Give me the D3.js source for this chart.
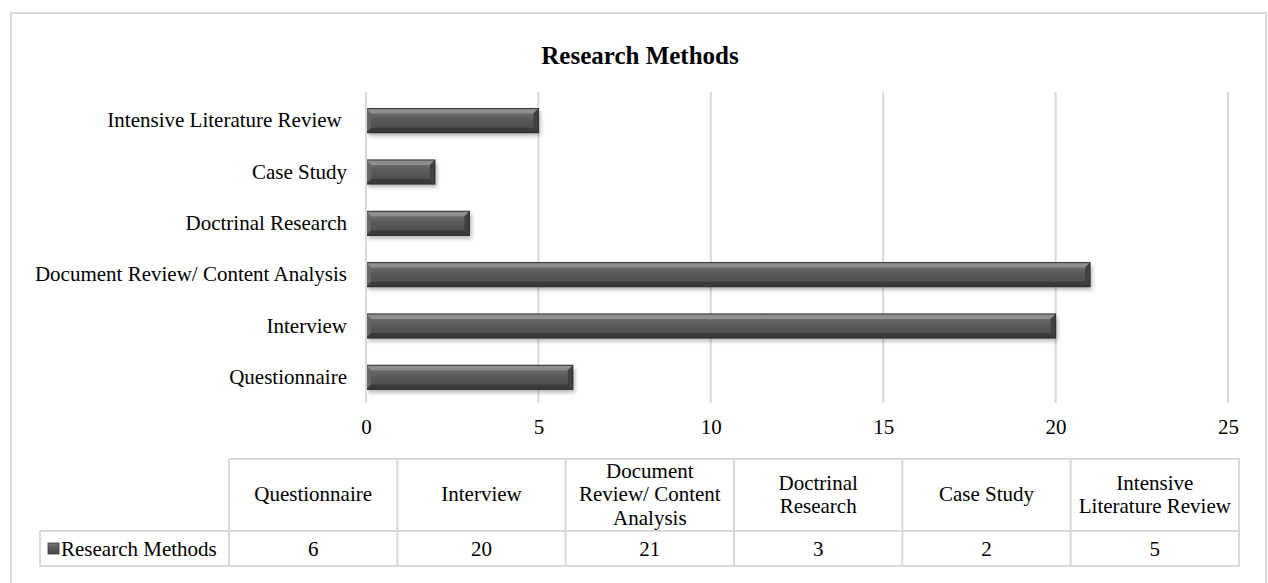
<!DOCTYPE html>
<html>
<head>
<meta charset="utf-8">
<script src="https://cdn.jsdelivr.net/npm/d3@7"></script>
<style>
  html, body { margin: 0; padding: 0; background: #fff; }
  svg { display: block; }
  text { font-family: "Liberation Serif", "Times New Roman", serif; fill: #000; }
</style>
</head>
<body>
<svg id="chart" width="1268" height="583"></svg>
<script>
// Research methods and their counts
const categories = ["Questionnaire", "Interview", "Document Review/ Content Analysis",
                    "Doctrinal Research", "Case Study", "Intensive Literature Review"];
const values = [6, 20, 21, 3, 2, 5];
const seriesName = "Research Methods";
const xTicks = [0, 5, 10, 15, 20, 25];
// Wrapped header text for the data table
const tableHeaders = [["Questionnaire"], ["Interview"], ["Document", "Review/ Content", "Analysis"],
                      ["Doctrinal", "Research"], ["Case Study"], ["Intensive", "Literature Review"]];

const svg = d3.select("#chart");
const FS = "21px";

const defs = svg.append("defs");
const face = defs.append("linearGradient").attr("id", "face").attr("x1", 0).attr("y1", 0).attr("x2", 0).attr("y2", 1);
face.append("stop").attr("offset", "0%").attr("stop-color", "#7a7a7a");
face.append("stop").attr("offset", "45%").attr("stop-color", "#5a5a5a");
face.append("stop").attr("offset", "100%").attr("stop-color", "#4a4a4a");
const shadow = defs.append("filter").attr("id", "shadow").attr("x", "-5%").attr("y", "-30%").attr("width", "110%").attr("height", "160%");
shadow.append("feGaussianBlur").attr("stdDeviation", 2);

// Outer frame
svg.append("rect").attr("x", 11).attr("y", 13).attr("width", 1255).attr("height", 600)
  .attr("fill", "#fff").attr("stroke", "#d9d9d9").attr("stroke-width", 2);

// Title
svg.append("text").attr("x", 640).attr("y", 55).attr("dy", "0.35em").attr("text-anchor", "middle")
  .style("font-size", "25px").style("font-weight", "bold").text("Research Methods");

// Plot geometry
const plotLeft = 366, plotRight = 1228, plotTop = 95, plotBottom = 403;
const x = d3.scaleLinear().domain([0, 25]).range([plotLeft, plotRight]);
const y = d3.scaleBand().domain(categories.slice().reverse()).range([plotTop, plotBottom]).paddingInner(0.53).paddingOuter(0.265);

// Vertical gridlines
svg.append("g").selectAll("line").data(xTicks).join("line")
  .attr("x1", d => x(d)).attr("x2", d => x(d))
  .attr("y1", 92).attr("y2", plotBottom)
  .attr("stroke", "#d9d9d9").attr("stroke-width", 2);

// x-axis tick labels
const xAxis = d3.axisBottom(x).tickValues(xTicks).tickSize(0).tickPadding(0);
const gx = svg.append("g").attr("transform", `translate(0,427)`).call(xAxis);
gx.select(".domain").remove();
gx.selectAll("text").style("font-size", FS).style("font-family", "'Liberation Serif', serif").attr("fill", "#000").attr("dy", "0.35em");

// y-axis category labels
const yAxis = d3.axisLeft(y).tickSize(0).tickPadding(0);
const gy = svg.append("g").attr("transform", `translate(${plotLeft - 19},0)`).call(yAxis);
gy.select(".domain").remove();
gy.selectAll("text").style("font-size", FS).style("font-family", "'Liberation Serif', serif").attr("fill", "#000")
  .text(d => d === "Intensive Literature Review" ? d + "\u00a0" : d);

// Bevelled bars
const bars = svg.append("g").selectAll("g").data(categories.map((c, i) => ({ c, v: values[i] }))).join("g");
bars.each(function (d) {
  const g = d3.select(this);
  const x0 = x(0), x1 = x(d.v), y0 = y(d.c), h = y.bandwidth(), w = x1 - x0, b = 5;
  g.append("rect").attr("x", x0 + 2).attr("y", y0 + 3).attr("width", w).attr("height", h)
    .attr("fill", "#000").attr("opacity", 0.3).attr("filter", "url(#shadow)");
  g.append("rect").attr("x", x0).attr("y", y0).attr("width", w).attr("height", h).attr("fill", "url(#face)");
  const poly = pts => pts.map(p => p.join(",")).join(" ");
  g.append("polygon").attr("points", poly([[x0, y0], [x1, y0], [x1 - b, y0 + b], [x0 + b, y0 + b]])).attr("fill", "#8e8e8e");
  g.append("polygon").attr("points", poly([[x0, y0 + h], [x1, y0 + h], [x1 - b, y0 + h - b], [x0 + b, y0 + h - b]])).attr("fill", "#3a3a3a");
  g.append("polygon").attr("points", poly([[x0, y0], [x0 + b, y0 + b], [x0 + b, y0 + h - b], [x0, y0 + h]])).attr("fill", "#666");
  g.append("polygon").attr("points", poly([[x1, y0], [x1 - b, y0 + b], [x1 - b, y0 + h - b], [x1, y0 + h]])).attr("fill", "#404040");
  g.append("rect").attr("x", x0).attr("y", y0).attr("width", w).attr("height", h)
    .attr("fill", "none").attr("stroke", "#2e2e2e").attr("stroke-width", 1);
});

// Left axis line
svg.append("line").attr("x1", plotLeft).attr("x2", plotLeft).attr("y1", 92).attr("y2", plotBottom)
  .attr("stroke", "#d9d9d9").attr("stroke-width", 2);

// Data table
const tLeft = 229, tRight = 1239, tTop = 459, tMid = 531, tBottom = 566, legLeft = 40;
const col = d3.scaleBand().domain(d3.range(categories.length)).range([tLeft, tRight]);
const tg = svg.append("g");
const lineStyle = sel => sel.attr("stroke", "#d9d9d9").attr("stroke-width", 2).attr("fill", "none");

tg.append("path").call(lineStyle).attr("d",
  `M${tLeft},${tTop}H${tRight}V${tBottom}H${legLeft}V${tMid}H${tRight}M${tLeft},${tTop}V${tBottom}`);
tg.append("path").call(lineStyle).attr("d",
  d3.range(1, categories.length).map(i => `M${col(i)},${tTop}V${tBottom}`).join(""));

const lh = 23.5;
tableHeaders.forEach((lines, i) => {
  const cx = col(i) + col.bandwidth() / 2;
  const cy = (tTop + tMid) / 2 - 1;
  lines.forEach((ln, k) => {
    tg.append("text").attr("text-anchor", "middle").style("font-size", FS)
      .attr("x", cx).attr("y", cy + (k - (lines.length - 1) / 2) * lh).attr("dy", "0.35em").text(ln);
  });
});
values.forEach((v, i) => {
  tg.append("text").attr("x", col(i) + col.bandwidth() / 2).attr("y", (tMid + tBottom) / 2).attr("dy", "0.35em")
    .attr("text-anchor", "middle").style("font-size", FS).text(v);
});

// Legend key in the table
tg.append("rect").attr("x", 48).attr("y", 543).attr("width", 11).attr("height", 11)
  .attr("fill", "url(#face)").attr("stroke", "#333").attr("stroke-width", 0.8);
tg.append("text").attr("x", 61).attr("y", (tMid + tBottom) / 2).attr("dy", "0.35em").style("font-size", FS).text(seriesName);
</script>
</body>
</html>
